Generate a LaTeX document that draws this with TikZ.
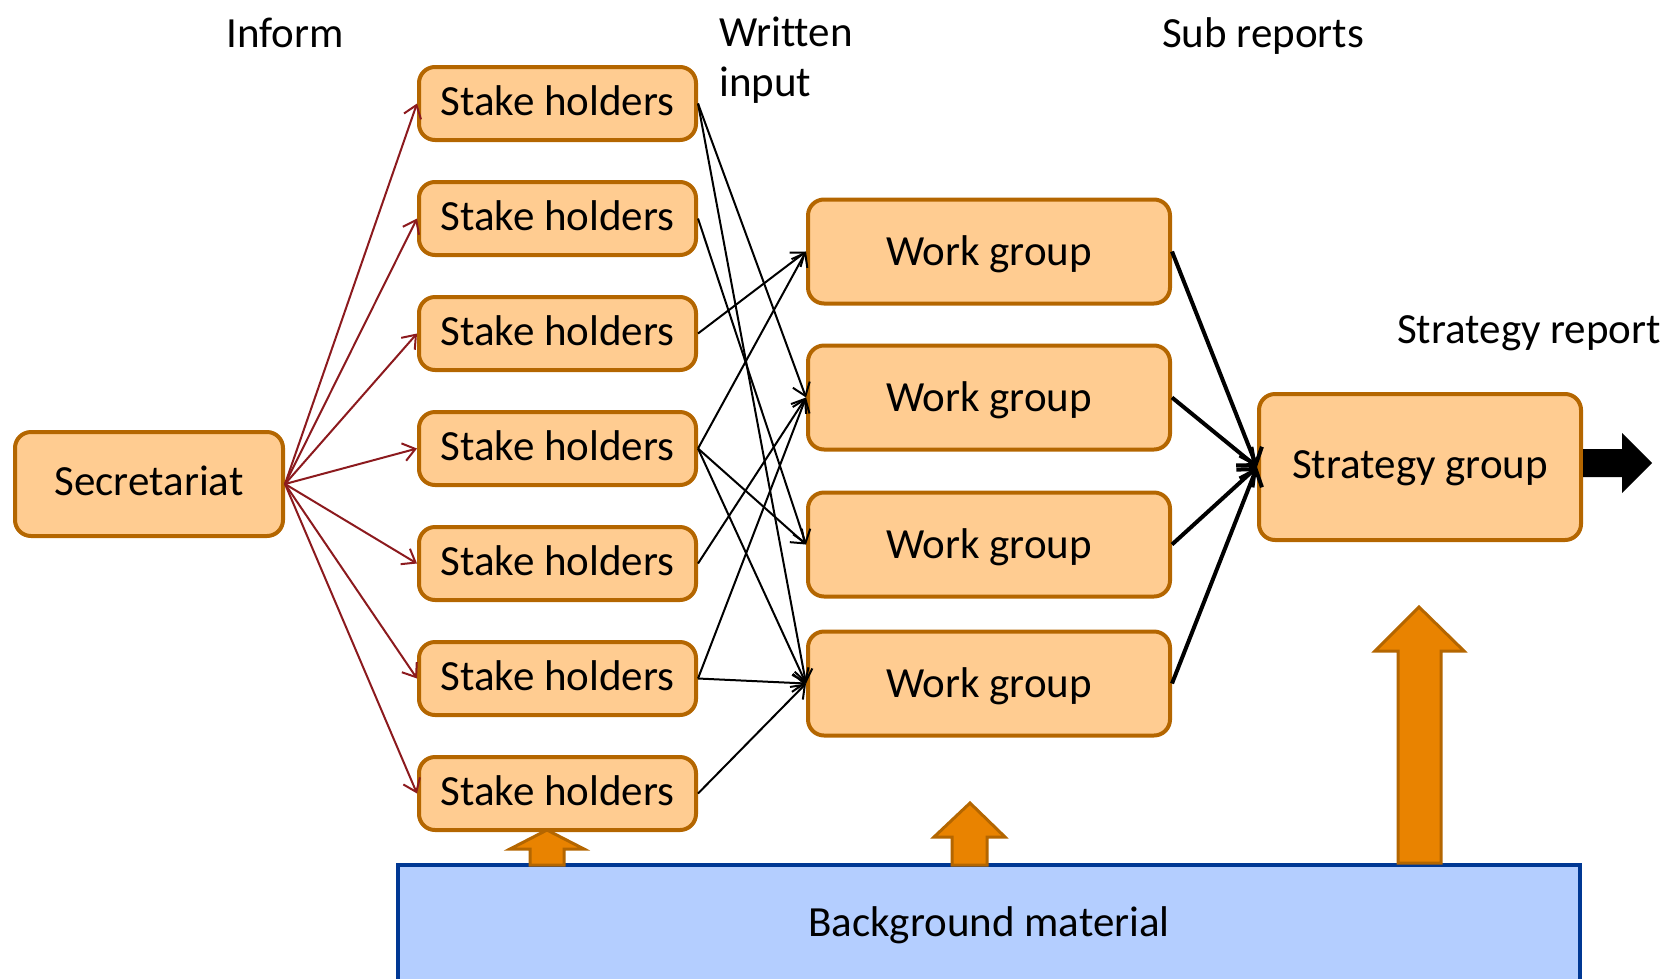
\documentclass[tikz,border=0pt]{standalone}
\usepackage{fontspec}
\setmainfont{Carlito}[Ligatures=NoCommon]
\usetikzlibrary{arrows.meta}
\definecolor{boxfill}{RGB}{255,204,145}
\definecolor{boxline}{RGB}{180,102,0}
\definecolor{fatfill}{RGB}{233,131,0}
\definecolor{bgfill}{RGB}{180,206,255}
\definecolor{bgline}{RGB}{0,56,148}
\definecolor{redarrow}{RGB}{140,26,30}
\begin{document}
\begin{tikzpicture}[x=1pt,y=-1pt,
  txt/.style={font=\fontsize{43}{50}\selectfont},
  box/.style={txt, draw=boxline, fill=boxfill, line width=4pt, rounded corners=16pt,
    inner sep=0pt, text height=29pt, text depth=6pt},
  sbox/.style={box, minimum width=277pt, minimum height=73pt},
  wbox/.style={box, minimum width=362pt, minimum height=104pt, text height=31pt, text depth=4pt},
  bgbox/.style={txt, draw=bgline, fill=bgfill, line width=4pt, inner sep=0pt,
    text height=29pt, text depth=6pt, minimum width=1182pt, minimum height=120pt},
  lbl/.style={txt, inner sep=0pt},
  inform/.style={draw=redarrow, line width=2pt, -{Straight Barb[length=12pt,width=18pt]}},
  written/.style={draw=black, line width=2pt, -{Straight Barb[length=12pt,width=18pt]}},
  subrep/.style={draw=black, line width=4pt, -{Straight Barb[length=14pt,width=24pt]}},
  fat/.style={fill=fatfill, draw=boxline, line width=3pt, line join=miter},
]
\useasboundingbox (0,0) rectangle (1665,978);

% labels
\node[lbl, anchor=base] (linform) at (285,47) {Inform};
\node[lbl, anchor=west, align=left] (lwritten) at (719,60) {Written\\input};
\node[lbl, anchor=base] (lsub) at (1263,47) {Sub reports};
\node[lbl, anchor=base] (lstrat) at (1529,343) {Strategy report};

% boxes
\node[box, minimum width=268pt, minimum height=104pt] (sec) at (149,484) {Secretariat};
\foreach \i in {1,...,7} {
  \node[sbox] (s\i) at (557.5,{103.5+115*(\i-1)}) {Stake holders};
}
\node[wbox] (w1) at (989,251.5) {Work group};
\node[wbox] (w2) at (989,397.5) {Work group};
\node[wbox] (w3) at (989,544.5) {Work group};
\node[wbox] (w4) at (989,683.5) {Work group};
\node[box, minimum width=322pt, minimum height=146pt] (strat) at (1420,467) {Strategy group};
\node[bgbox] (bg) at (989,925) {Background material};

% inform arrows
\foreach \i in {1,...,7} {
  \draw[inform] (sec.east) -- (s\i.west);
}
% written input arrows
\foreach \a/\b in {1/2,1/4,2/3,3/1,4/1,4/3,4/4,5/2,6/2,6/4,7/4} {
  \draw[written] (s\a.east) -- (w\b.west);
}
% sub reports
\foreach \b in {1,...,4} {
  \draw[subrep] (w\b.east) -- (strat.west);
}
% strategy report output arrow
\fill[black] (strat.east) ++(0,-18) -- ++(39,0) -- ++(0,-16) -- ++(30,30) -- ++(-30,30) -- ++(0,-16) -- ++(-39,0) -- cycle;

% background material fat arrows
\draw[fat] (530,865) -- (530,849) -- (510,849) -- (547,830) -- (584,849) -- (564,849) -- (564,865) -- cycle;
\draw[fat] (952,865) -- (952,837) -- (934,837) -- (970,803) -- (1005,837) -- (987,837) -- (987,865) -- cycle;
\draw[fat] (1398,863) -- (1398,651) -- (1375,651) -- (1419,607) -- (1464,651) -- (1441,651) -- (1441,863) -- cycle;
\end{tikzpicture}
\end{document}
